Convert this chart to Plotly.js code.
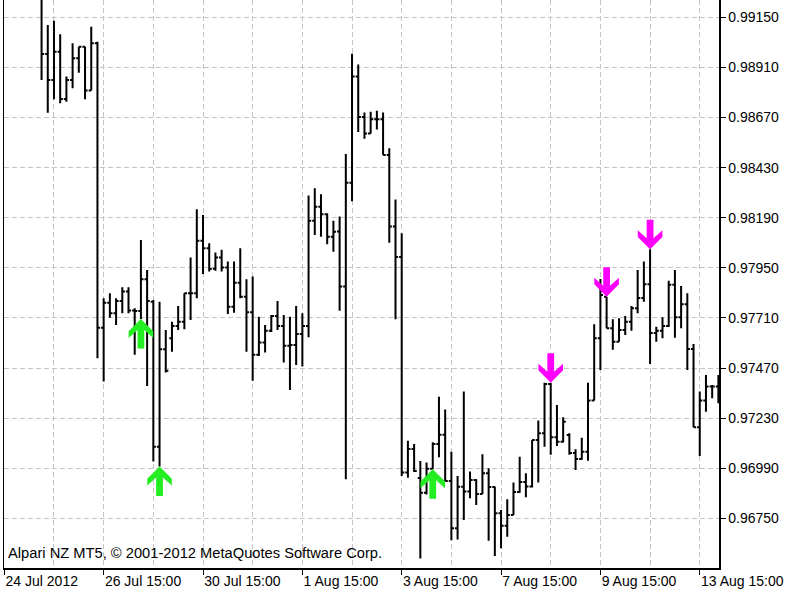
<!DOCTYPE html>
<html>
<head>
<meta charset="utf-8">
<script src="https://cdn.plot.ly/plotly-3.0.1.min.js"></script>
<style>html,body{margin:0;padding:0;background:#fff;}#chart{width:800px;height:600px;}</style>
</head>
<body>
<div id="chart"></div>
<script>
// H3 bars, index 0 = first visible bar
const barOpen = [0.99271,0.98974,0.98850,0.98985,0.98759,0.98850,0.98954,0.99009,0.98799,0.99026,
0.97663,0.97783,0.97732,0.97791,0.97836,0.97745,0.97743,0.97895,0.97788,0.97093,
0.97560,0.97613,0.97671,0.97692,0.97828,0.97828,0.98080,0.98044,0.97946,0.97999,
0.97951,0.97764,0.97879,0.97812,0.97737,0.97533,0.97592,0.97648,0.97719,0.97671,
0.97577,0.97580,0.97633,0.97671,0.98176,0.98243,0.98207,0.98099,0.98124,0.97861,
0.98358,0.98867,0.98673,0.98593,0.98662,0.98662,0.98491,0.98148,0.98002,0.96969,
0.97082,0.96943,0.96872,0.96988,0.97106,0.97150,0.96929,0.96702,0.96901,0.96878,
0.96934,0.96867,0.96966,0.96900,0.96774,0.96714,0.96766,0.96876,0.96924,0.96902,
0.97125,0.97158,0.97394,0.97138,0.97117,0.97149,0.97063,0.97034,0.97069,0.97314,
0.97613,0.97812,0.97660,0.97596,0.97652,0.97692,0.97756,0.97806,0.97871,0.97638,
0.97648,0.97671,0.97869,0.97713,0.97775,0.97561,0.97186,0.97314,0.97381,0.97381];
const barHigh = [0.99305,0.99113,0.99134,0.99069,0.98866,0.99026,0.99009,0.99009,0.99105,0.99033,
0.97804,0.97828,0.97804,0.97857,0.97857,0.97756,0.98083,0.97940,0.97796,0.97788,
0.97652,0.97692,0.97767,0.97828,0.97999,0.98231,0.98203,0.98068,0.98023,0.98036,
0.97980,0.97980,0.98044,0.97895,0.97908,0.97716,0.97676,0.97724,0.97791,0.97724,
0.97716,0.97767,0.97732,0.98296,0.98331,0.98302,0.98211,0.98176,0.98196,0.98495,
0.98975,0.98924,0.98694,0.98698,0.98702,0.98694,0.98523,0.98277,0.98116,0.97122,
0.97106,0.97025,0.97017,0.97114,0.97332,0.97271,0.97069,0.96953,0.97357,0.96974,
0.96937,0.97057,0.96990,0.96902,0.96790,0.96841,0.96921,0.97045,0.96966,0.97125,
0.97218,0.97400,0.97400,0.97293,0.97234,0.97158,0.97081,0.97136,0.97400,0.97680,
0.97897,0.97812,0.97704,0.97708,0.97719,0.97767,0.97940,0.97980,0.98039,0.97668,
0.97713,0.97888,0.97940,0.97863,0.97828,0.97585,0.97357,0.97437,0.97389,0.97437];
const barLow = [0.98850,0.98693,0.98757,0.98738,0.98746,0.98810,0.98885,0.98757,0.98799,0.97517,
0.97405,0.97711,0.97676,0.97732,0.97732,0.97533,0.97705,0.97384,0.97022,0.96998,
0.97448,0.97548,0.97652,0.97656,0.97700,0.97804,0.97921,0.97932,0.97936,0.97932,
0.97729,0.97735,0.97804,0.97548,0.97409,0.97528,0.97544,0.97643,0.97652,0.97496,
0.97365,0.97485,0.97477,0.97617,0.98107,0.98099,0.98063,0.98027,0.97744,0.96937,
0.98269,0.98601,0.98568,0.98593,0.98613,0.98491,0.98070,0.97704,0.96953,0.96944,
0.96972,0.96557,0.96864,0.96985,0.97042,0.96929,0.96645,0.96649,0.96742,0.96846,
0.96814,0.96867,0.96643,0.96570,0.96607,0.96662,0.96766,0.96873,0.96851,0.96898,
0.96921,0.97093,0.97054,0.97097,0.97113,0.97054,0.96982,0.97030,0.97026,0.97314,
0.97461,0.97660,0.97557,0.97596,0.97628,0.97649,0.97732,0.97788,0.97489,0.97596,
0.97613,0.97667,0.97615,0.97660,0.97461,0.97186,0.97049,0.97261,0.97325,0.97301];
const barClose = [0.98974,0.98850,0.98985,0.98759,0.98850,0.98954,0.99009,0.98799,0.99026,0.97663,
0.97783,0.97732,0.97791,0.97836,0.97745,0.97743,0.97895,0.97791,0.97093,0.97560,
0.97457,0.97671,0.97692,0.97828,0.97828,0.98080,0.98044,0.97946,0.97999,0.97951,
0.97764,0.97879,0.97812,0.97737,0.97533,0.97592,0.97648,0.97719,0.97671,0.97577,
0.97580,0.97633,0.97671,0.98176,0.98243,0.98207,0.98099,0.98123,0.97861,0.98358,
0.98867,0.98673,0.98593,0.98662,0.98662,0.98491,0.98148,0.98002,0.96969,0.97082,
0.96977,0.96872,0.96988,0.97106,0.97150,0.96929,0.96702,0.96901,0.96878,0.96934,
0.96867,0.96966,0.96900,0.96774,0.96714,0.96766,0.96876,0.96924,0.96902,0.97125,
0.97158,0.97394,0.97138,0.97117,0.97213,0.97063,0.97034,0.97069,0.97314,0.97613,
0.97820,0.97660,0.97596,0.97652,0.97692,0.97756,0.97806,0.97871,0.97638,0.97648,
0.97671,0.97869,0.97713,0.97775,0.97561,0.97186,0.97314,0.97381,0.97381,0.97341];

// signal arrows (bar index, price)
const buyIdx = [16, 19, 63];
const buyPrice = [0.97705, 0.96998, 0.96985];
const sellIdx = [82, 91, 98];
const sellPrice = [0.97400, 0.97812, 0.98039];

// axis ticks
const xTickIdx = [-6, 10, 26, 42, 58, 74, 90, 106];
const xTickLabels = ['24 Jul 2012','26 Jul 15:00','30 Jul 15:00','1 Aug 15:00','3 Aug 15:00','7 Aug 15:00','9 Aug 15:00','13 Aug 15:00'];
const yTickLabels = ['0.96750','0.96990','0.97230','0.97470','0.97710','0.97950','0.98190','0.98430','0.98670','0.98910','0.99150'];

const barIdx = barOpen.map((_, i) => i);
const xRange = [-6.05, 109.1];
const yRange = [0.96512, 0.99233];
const M = {l: 4, r: 81, t: 0, b: 32};
const plotW = 800 - M.l - M.r, plotH = 600 - M.t - M.b;
const xPerPx = (xRange[1] - xRange[0]) / plotW;
const yPerPx = (yRange[1] - yRange[0]) / plotH;

// arrow outline in pixels, tip at (0,0), pointing down (y up positive)
const arrowShape = [[0,0],[12.3,12.3],[12.3,19],[3.4,11],[3.4,29.5],[-3.4,29.5],[-3.4,11],[-12.3,19],[-12.3,12.3],[0,0]];
function arrowTrace(ix, price, dir, color) {
  return {
    type: 'scatter', mode: 'lines', fill: 'toself', fillcolor: color,
    line: {width: 0, color: color}, hoverinfo: 'skip',
    x: arrowShape.map(p => ix + p[0] * xPerPx),
    y: arrowShape.map(p => price + dir * p[1] * yPerPx)
  };
}

const traces = [{
  type: 'ohlc', x: barIdx, open: barOpen, high: barHigh, low: barLow, close: barClose,
  increasing: {line: {color: '#000', width: 2}},
  decreasing: {line: {color: '#000', width: 2}},
  tickwidth: 0.42, hoverinfo: 'skip'
}];
buyIdx.forEach((ix, k) => traces.push(arrowTrace(ix, buyPrice[k], -1, '#22ee22')));
sellIdx.forEach((ix, k) => traces.push(arrowTrace(ix, sellPrice[k], 1, '#ff00ff')));

const gridStyle = {gridcolor: '#c4c4c4', griddash: '5px,3px', gridwidth: 1};
const layout = {
  width: 800, height: 600,
  margin: {l: M.l, r: M.r, t: M.t, b: M.b, pad: 0},
  paper_bgcolor: '#fff', plot_bgcolor: '#fff', showlegend: false,
  font: {family: 'Liberation Sans, Arial, sans-serif', size: 14, color: '#000'},
  xaxis: Object.assign({
    type: 'linear', range: xRange, rangeslider: {visible: false},
    tickmode: 'array', tickvals: xTickIdx, ticktext: xTickLabels,
    ticks: 'outside', ticklen: 5, tickcolor: '#000', tickwidth: 1,
    ticklabelposition: 'outside right',
    showgrid: true, zeroline: false,
    showline: true, linecolor: '#000', linewidth: 1.5,
    minor: Object.assign({tickmode: 'linear', tick0: 2, dtick: 8, showgrid: true, ticks: ''}, gridStyle)
  }, gridStyle),
  yaxis: Object.assign({
    side: 'right', range: yRange,
    tickmode: 'array', tickvals: yTickLabels.map(Number), ticktext: yTickLabels,
    ticks: 'outside', ticklen: 5, tickcolor: '#000', tickwidth: 1,
    showgrid: true, zeroline: false,
    showline: true, mirror: true, linecolor: '#000', linewidth: 1.5
  }, gridStyle),
  annotations: [{
    text: 'Alpari NZ MT5, © 2001-2012 MetaQuotes Software Corp.',
    xref: 'paper', yref: 'paper', x: 2 / plotW, y: 15 / plotH,
    xanchor: 'left', yanchor: 'middle', showarrow: false,
    font: {family: 'Liberation Sans, Arial, sans-serif', size: 14.7, color: '#000'}
  }]
};
Plotly.newPlot('chart', traces, layout, {staticPlot: true, displayModeBar: false});
</script>
</body>
</html>
